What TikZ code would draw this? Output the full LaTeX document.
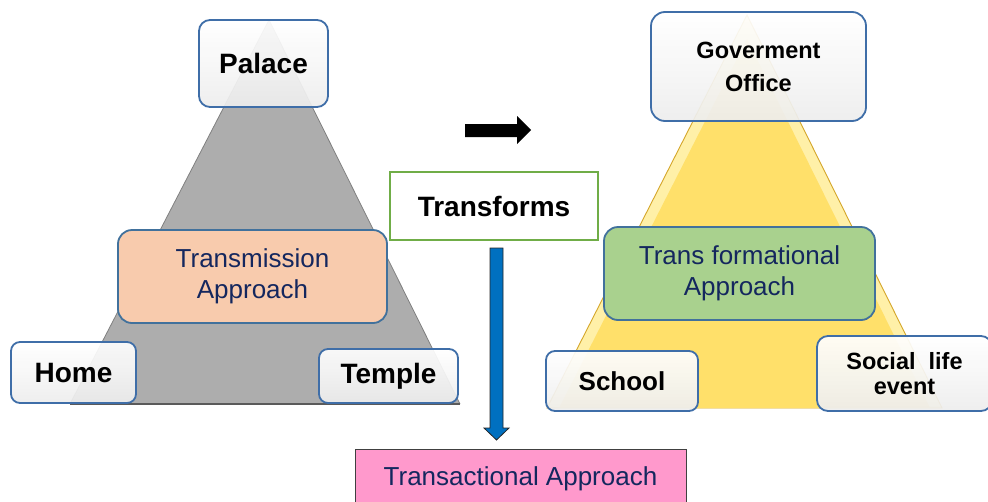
\documentclass[tikz,border=0pt]{standalone}
\usepackage{fontspec}
\setmainfont{Liberation Sans}
\definecolor{boxblue}{HTML}{3F6EA8}
\definecolor{apblue}{HTML}{41719C}
\definecolor{navy}{HTML}{14275E}
\definecolor{peach}{HTML}{F8CBAD}
\definecolor{sage}{HTML}{A9D18E}
\definecolor{pinkbox}{HTML}{FF99CC}
\definecolor{tgreen}{HTML}{70AD47}
\definecolor{arrowblue}{HTML}{0070C0}
\definecolor{grayfill}{HTML}{ADADAD}
\definecolor{grayedge}{HTML}{808080}
\definecolor{goldedge}{HTML}{D4A62A}
\definecolor{yellband}{HTML}{FFF0A8}
\definecolor{yellmain}{HTML}{FFE06A}
\begin{document}
\begin{tikzpicture}[x=1pt,y=-1pt,
  lbl/.style={draw=boxblue, line width=1.8pt, rounded corners=11pt, top color=white,
    bottom color=black!7, fill opacity=0.92, text opacity=1, inner sep=0pt, align=center,
    font=\bfseries\fontsize{28}{32}\selectfont},
  lblsmall/.style={lbl, font=\bfseries\fontsize{23.5}{33}\selectfont},
  appr/.style={draw=apblue, line width=1.8pt, rounded corners=14pt, inner sep=0pt,
    align=center, text=navy, font=\fontsize{26}{31}\selectfont},
]
\useasboundingbox (0,0) rectangle (988,501);

% left (gray) triangle
\fill[grayfill] (269,20) -- (70,404) -- (460,404) -- cycle;
\draw[grayedge, line width=0.8pt] (269,20) -- (70,404);
\draw[grayedge, line width=0.8pt] (269,20) -- (460,404);
\draw[grayedge!70!black, line width=1.2pt] (70,404) -- (460,404);

% right (yellow) triangle
\fill[yellband, draw=goldedge, line width=0.9pt] (747,15) -- (547,408) -- (942,408) -- cycle;
\fill[yellmain] (747,39) -- (559,408) -- (930,408) -- cycle;

% left pyramid labels
\node[lbl, minimum width=129pt, minimum height=87pt] (palace) at (263.5,63.5) {Palace};
\node[appr, fill=peach, minimum width=269pt, minimum height=93pt] (transmission) at (252.5,276.5) {Transmission\\Approach};
\node[lbl, rounded corners=9pt, minimum width=125pt, minimum height=61pt] (home) at (73.5,372.5) {Home};
\node[lbl, rounded corners=9pt, minimum width=139pt, minimum height=54pt] (temple) at (388.5,376) {Temple};

% right pyramid labels
\node[lblsmall, rounded corners=14pt, minimum width=215pt, minimum height=109pt] (gov) at (758.5,66.5) {Goverment\\Office};
\node[appr, fill=sage, minimum width=271pt, minimum height=93pt] (transformational) at (739.5,273.5) {Trans formational\\Approach};
\node[lbl, rounded corners=9pt, font=\bfseries\fontsize{26}{30}\selectfont, minimum width=152pt, minimum height=60pt] (school) at (622,381) {School};
\node[lblsmall, font=\bfseries\fontsize{23.5}{25}\selectfont, rounded corners=11pt, minimum width=175pt, minimum height=75pt] (social) at (904.5,373.5) {Social\ \ life\\event};

% middle
\node[draw=tgreen, line width=1.4pt, fill=white, inner sep=0pt, minimum width=208pt, minimum height=68pt,
  font=\bfseries\fontsize{28}{32}\selectfont] (transforms) at (494,206) {Transforms};
\node[draw=black!75, line width=1pt, fill=pinkbox, inner sep=0pt, minimum width=331pt, minimum height=60pt,
  text=navy, font=\fontsize{26}{31}\selectfont] (transactional) at (520.5,479) {Transactional Approach};

% black right arrow
\fill[black] (465,124) -- (517,124) -- (517,116) -- (531,130) -- (517,144) -- (517,137) -- (465,137) -- cycle;

% blue down arrow from Transforms to Transactional
\draw[fill=arrowblue, draw=black!85, line width=0.8pt]
  (490,248) -- (503,248) -- (503,428) -- (509,428) -- (496.5,440) -- (484,428) -- (490,428) -- cycle;
\end{tikzpicture}
\end{document}
